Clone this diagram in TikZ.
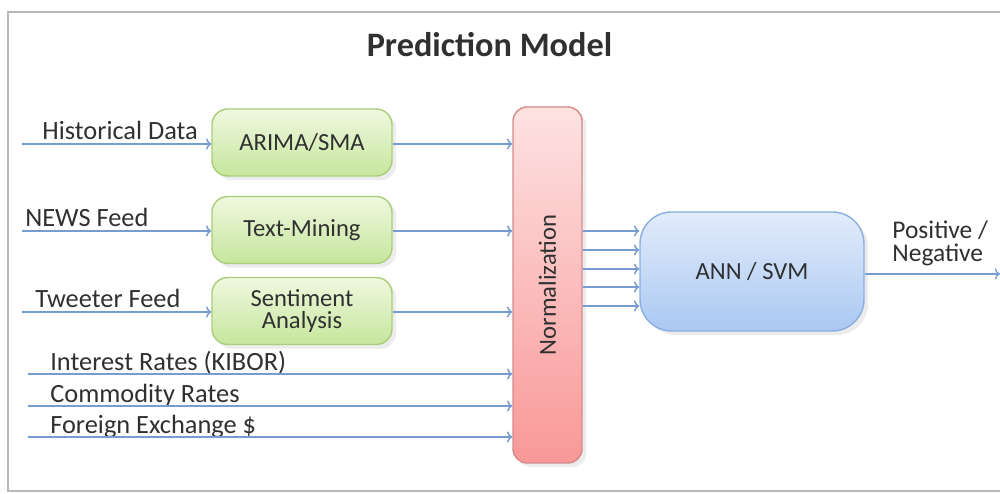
\documentclass[tikz,border=0pt]{standalone}
\usepackage{fontspec}
\setmainfont{Carlito}
\usetikzlibrary{arrows.meta,positioning,shadows}
\definecolor{flowblue}{RGB}{118,156,208}
\definecolor{txtgray}{RGB}{48,48,48}
\definecolor{greentop}{RGB}{240,248,224}
\definecolor{greenbot}{RGB}{198,230,156}
\definecolor{greenedge}{RGB}{168,206,122}
\definecolor{pinktop}{RGB}{253,226,226}
\definecolor{pinkbot}{RGB}{249,152,152}
\definecolor{pinkedge}{RGB}{214,138,138}
\definecolor{bluetop}{RGB}{226,236,251}
\definecolor{bluebot}{RGB}{170,200,242}
\definecolor{blueedge}{RGB}{138,174,222}

\begin{document}
\begin{tikzpicture}[font=\fontsize{14}{12.5}\selectfont,
    every node/.style={text=txtgray},
    greenbox/.style={draw=greenedge, line width=0.8pt, rounded corners=9pt, top color=greentop, bottom color=greenbot, minimum width=3.6cm, minimum height=1.34cm, align=center, drop shadow={opacity=0.15}},
    feed/.style={flowblue, line width=0.8pt, -{To[length=3pt]}},
    lbl/.style={anchor=base west, inner sep=0pt, font=\fontsize{15}{13}\selectfont}]
    \useasboundingbox (0,0) rectangle (20,9.88);
    \clip (0,0) rectangle (20,9.88);
    \draw[gray!55, line width=1.2pt] (0.16,0.06) rectangle (20.4,9.64);

    \node[font=\fontsize{19.5}{22}\selectfont\bfseries] (title) at (9.79,8.98) {Prediction Model};

    % models
    \node[greenbox] (arima) at (6.04,7.03) {ARIMA/SMA};
    \node[greenbox] (textmining) at (6.04,5.28) {Text-Mining};
    \node[greenbox] (sentiment) at (6.04,3.66) {Sentiment\\Analysis};

    \node[draw=pinkedge, line width=0.8pt, rounded corners=8pt, top color=pinktop, bottom color=pinkbot, minimum width=1.38cm, minimum height=7.12cm, drop shadow={opacity=0.15}] (norm) at (10.95,4.18) {};
    \node[rotate=90] (normtext) at (norm.center) {Normalization};

    \node[draw=blueedge, line width=0.8pt, rounded corners=18pt, top color=bluetop, bottom color=bluebot, minimum width=4.48cm, minimum height=2.38cm, drop shadow={opacity=0.15}] (ann) at (15.04,4.45) {ANN / SVM};

    % inputs
    \coordinate (hist) at (0.44,7.00);
    \coordinate (news) at (0.44,5.26);
    \coordinate (tweet) at (0.44,3.64);
    \coordinate (kibor) at (0.56,2.40);
    \coordinate (commod) at (0.56,1.76);
    \coordinate (forex) at (0.56,1.14);
    \coordinate (out) at (20.0,4.40);

    \node[lbl] (histlbl) at (0.84,7.08) {Historical Data};
    \node[lbl] (newslbl) at (0.50,5.34) {NEWS Feed};
    \node[lbl] (tweetlbl) at (0.70,3.72) {Tweeter Feed};
    \node[lbl] (kiborlbl) at (1.00,2.47) {Interest Rates (KIBOR)};
    \node[lbl] (commodlbl) at (1.00,1.83) {Commodity Rates};
    \node[lbl] (forexlbl) at (1.00,1.21) {Foreign Exchange \$};

    \draw[feed] (hist) -- (hist -| arima.west);
    \draw[feed] (news) -- (news -| textmining.west);
    \draw[feed] (tweet) -- (tweet -| sentiment.west);
    \draw[feed] (arima.east |- hist) -- (hist -| norm.west);
    \draw[feed] (textmining.east |- news) -- (news -| norm.west);
    \draw[feed] (sentiment.east |- tweet) -- (tweet -| norm.west);
    \draw[feed] (kibor) -- (kibor -| norm.west);
    \draw[feed] (commod) -- (commod -| norm.west);
    \draw[feed] (forex) -- (forex -| norm.west);

    % normalised features to classifier
    \foreach \y in {5.26,4.88,4.50,4.14,3.76}
        \draw[feed] (norm.east |- 0,\y) -- (ann.west |- 0,\y);

    \draw[feed] (ann.east |- out) -- (out);
    \node[anchor=north west, align=left, inner sep=0pt, font=\fontsize{14.5}{13}\selectfont] (outlbl) at (17.84,5.47) {Positive /\\Negative};
\end{tikzpicture}
\end{document}
